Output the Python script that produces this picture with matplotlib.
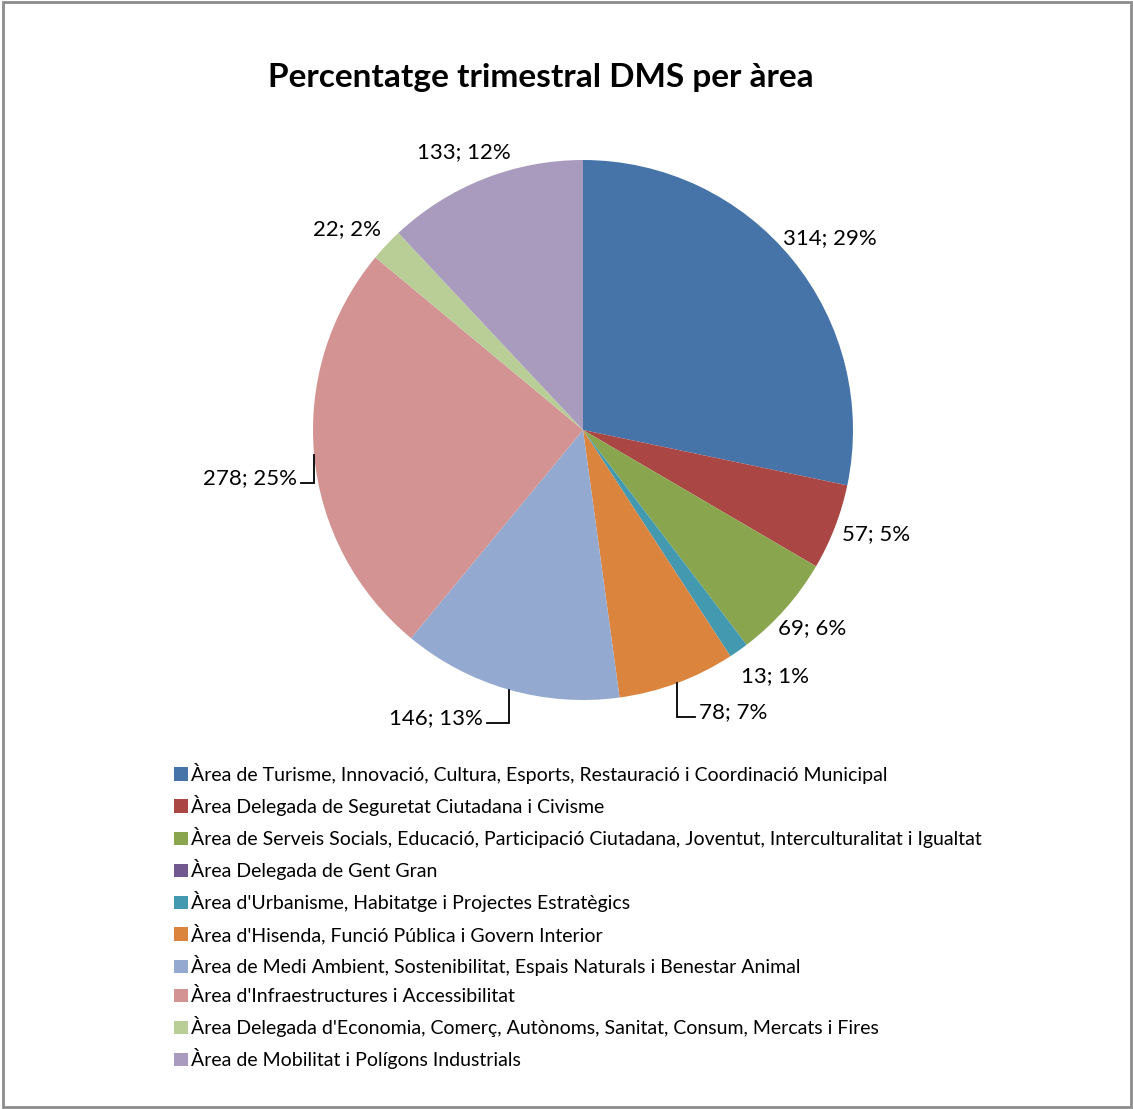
import numpy as np
import matplotlib
matplotlib.use("Agg")
import matplotlib.pyplot as plt
from matplotlib.patches import Rectangle

# quarterly DMS count per area
areas = [
    "Àrea de Turisme, Innovació, Cultura, Esports, Restauració i Coordinació Municipal",
    "Àrea Delegada de Seguretat Ciutadana i Civisme",
    "Àrea de Serveis Socials, Educació, Participació Ciutadana, Joventut, Interculturalitat i Igualtat",
    "Àrea Delegada de Gent Gran",
    "Àrea d'Urbanisme, Habitatge i Projectes Estratègics",
    "Àrea d'Hisenda, Funció Pública i Govern Interior",
    "Àrea de Medi Ambient, Sostenibilitat, Espais Naturals i Benestar Animal",
    "Àrea d'Infraestructures i Accessibilitat",
    "Àrea Delegada d'Economia, Comerç, Autònoms, Sanitat, Consum, Mercats i Fires",
    "Àrea de Mobilitat i Polígons Industrials",
]
counts = [314, 57, 69, 0, 13, 78, 146, 278, 22, 133]

colors = ["#4673A8", "#AA4744", "#89A64E", "#71598F", "#4299B0",
          "#DB843D", "#94A9D0", "#D29392", "#B9CD97", "#A99BBD"]

# label centres (axes units, pie radius = 1) and whether a leader line is drawn
label_pos = [(0.915, 0.711), (1.085, -0.385), (0.848, -0.733), None, (0.711, -0.911),
             (0.555, -1.044), (-0.545, -1.067), (-1.235, -0.178), (-0.874, 0.744), (-0.441, 1.030)]
leader = [False, False, False, False, False, True, True, True, False, False]


def excel_percents(vals):
    # largest remainder rounding so the labels add up to 100, like Excel does
    raw = np.array(vals, dtype=float) / sum(vals) * 100
    out = np.floor(raw).astype(int)
    short = 100 - out.sum()
    order = np.argsort(-(raw - out), kind="stable")
    out[order[:short]] += 1
    return out


W, H = 1133, 1109
fig = plt.figure(figsize=(W / 100, H / 100), dpi=100)
font = "Lato"

# pie axes: centre (583, 430) px, radius 270 px
cx, cy, r = 583, 430, 270
ax = fig.add_axes([(cx - r) / W, 1 - (cy + r) / H, 2 * r / W, 2 * r / H])
wedges, _ = ax.pie(counts, colors=colors, startangle=90, counterclock=False,
                   radius=1, wedgeprops=dict(linewidth=0))
ax.set_xlim(-1, 1)
ax.set_ylim(-1, 1)
ax.set_aspect("equal")
ax.axis("off")

pcts = excel_percents(counts)
texts = []
for w, n, p, pos, lead in zip(wedges, counts, pcts, label_pos, leader):
    if pos is None:
        continue
    t = ax.text(pos[0], pos[1], f"{n}; {p}%", ha="center", va="center", fontsize=16,
                family=font, clip_on=False)
    if lead:
        texts.append((w, t))

fig.text(541 / W, 1 - 77 / H, "Percentatge trimestral DMS per àrea", ha="center",
         va="center", fontsize=24, fontweight="bold", family=font)

handles = [Rectangle((0, 0), 1, 1, facecolor=c, edgecolor="none") for c in colors]
fig.legend(handles, areas, loc="upper left", bbox_to_anchor=(174 / W, 1 - 763 / H),
           frameon=False, prop=dict(family=font, size=14), handlelength=0.7,
           handleheight=0.7, handletextpad=0.15, labelspacing=0.57, borderpad=0,
           borderaxespad=0)

# leader lines: from the slice edge down/up to the label baseline, then across to it
fig.canvas.draw()
inv = ax.transData.inverted()
gap = 4 / r
for w, t in texts:
    bb = t.get_window_extent().transformed(inv)
    mid = np.deg2rad((w.theta1 + w.theta2) / 2)
    ex, ey = np.cos(mid), np.sin(mid)
    ly = bb.y0 + 5 / r
    if bb.x1 < ex:
        tx = bb.x1 + gap
    else:
        tx = bb.x0 - gap
    ax.plot([ex, ex, tx], [ey, ly, ly], color="black", lw=1.3, clip_on=False,
            solid_joinstyle="miter")

# chart area border
fig.patches.append(Rectangle((3 / W, 2 / H), (W - 5) / W, (H - 4) / H, transform=fig.transFigure,
                             fill=False, edgecolor="#8c8c8c", linewidth=2))

fig.savefig("out.png", dpi=100)
